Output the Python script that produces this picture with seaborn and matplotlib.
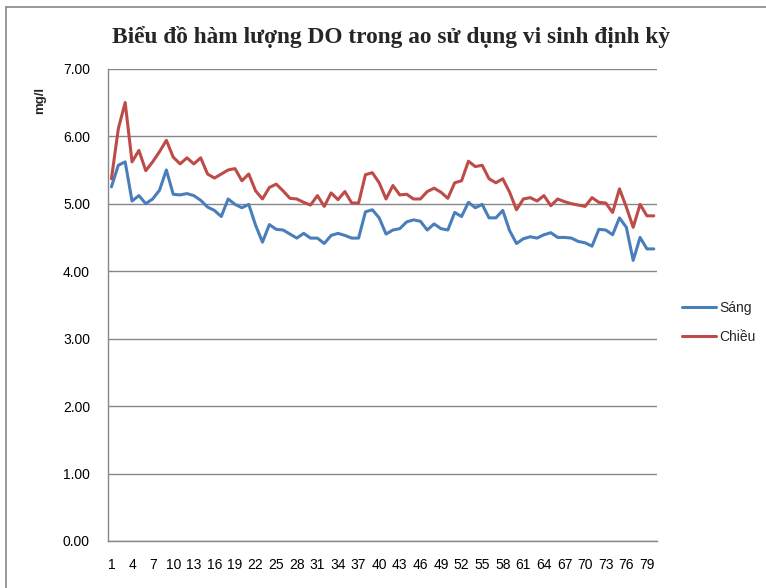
import pandas as pd
import matplotlib
matplotlib.use("Agg")
import matplotlib.pyplot as plt
import seaborn as sns
from matplotlib.lines import Line2D

# Số liệu DO (mg/l), 80 lần đo
days = list(range(1, 81))
sang = [5.25, 5.57, 5.62, 5.04, 5.12, 5.00, 5.07, 5.20, 5.50, 5.14,
        5.13, 5.15, 5.12, 5.05, 4.95, 4.90, 4.81, 5.07, 4.99, 4.94,
        4.99, 4.68, 4.43, 4.69, 4.62, 4.61, 4.55, 4.49, 4.56, 4.49,
        4.49, 4.41, 4.53, 4.56, 4.53, 4.49, 4.49, 4.88, 4.91, 4.79,
        4.55, 4.61, 4.63, 4.73, 4.76, 4.74, 4.61, 4.70, 4.63, 4.61,
        4.87, 4.81, 5.02, 4.94, 4.99, 4.79, 4.79, 4.90, 4.60, 4.41,
        4.48, 4.51, 4.49, 4.54, 4.57, 4.50, 4.50, 4.49, 4.44, 4.42,
        4.37, 4.62, 4.61, 4.54, 4.79, 4.65, 4.16, 4.50, 4.33, 4.33]
chieu = [5.37, 6.11, 6.50, 5.62, 5.79, 5.49, 5.62, 5.77, 5.94, 5.69,
         5.59, 5.68, 5.59, 5.68, 5.44, 5.38, 5.44, 5.50, 5.52, 5.34,
         5.44, 5.19, 5.07, 5.24, 5.29, 5.19, 5.08, 5.07, 5.02, 4.98,
         5.12, 4.96, 5.16, 5.06, 5.18, 5.01, 5.01, 5.43, 5.46, 5.31,
         5.07, 5.27, 5.13, 5.14, 5.07, 5.07, 5.18, 5.23, 5.17, 5.08,
         5.31, 5.34, 5.63, 5.55, 5.57, 5.37, 5.31, 5.37, 5.17, 4.91,
         5.07, 5.09, 5.04, 5.12, 4.97, 5.07, 5.03, 5.00, 4.98, 4.96,
         5.09, 5.02, 5.01, 4.87, 5.22, 4.95, 4.65, 4.99, 4.82, 4.82]

series_names = ["Sáng", "Chiều"]
series_colors = ["#4A7EBB", "#BE4B48"]
y_ticks = [0, 1, 2, 3, 4, 5, 6, 7]
x_ticks = list(range(1, 81, 3))

df = pd.DataFrame({
    "Ngày": days * 2,
    "DO": sang + chieu,
    "Buổi": ["Sáng"] * len(sang) + ["Chiều"] * len(chieu),
})

sns.set_style("white")
plt.rcParams["font.family"] = ["Liberation Sans", "DejaVu Sans"]

fig = plt.figure(figsize=(7.66, 5.88), dpi=100)
ax = fig.add_axes([0.141, 0.080, 0.717, 0.803])

sns.lineplot(data=df, x="Ngày", y="DO", hue="Buổi",
             palette=dict(zip(series_names, series_colors)),
             linewidth=2.2, legend=False, ax=ax)
for line in ax.lines:
    line.set_solid_joinstyle("round")

ax.set_xlim(0.5, 80.5)
ax.set_ylim(0, 7)
ax.set_yticks(y_ticks)
ax.set_yticklabels([f"{v:.2f}" for v in y_ticks], fontsize=10)
ax.set_xticks(x_ticks)
ax.set_xticklabels([str(v) for v in x_ticks], fontsize=10)
ax.set_xlabel("")
ax.set_ylabel("")
ax.grid(axis="y", color="#878787", linewidth=1)
ax.tick_params(axis="both", length=0, colors="black")
ax.tick_params(axis="y", pad=13)
ax.tick_params(axis="x", pad=12)
for side in ["top", "right"]:
    ax.spines[side].set_visible(False)
for side in ["left", "bottom"]:
    ax.spines[side].set_color("#878787")
    ax.spines[side].set_linewidth(1)

fig.text(0.51, 0.937, "Biểu đồ hàm lượng DO trong ao sử dụng vi sinh định kỳ",
         ha="center", va="center", fontsize=16.8, fontweight="bold",
         family=["Liberation Serif", "DejaVu Serif"])
fig.text(0.052, 0.83, "mg/l", rotation=90, ha="center", va="center",
         fontsize=9.5, fontweight="bold")

handles = [Line2D([0], [0], color=c, linewidth=2.2) for c in series_colors]
fig.legend(handles, series_names, loc="center left",
           bbox_to_anchor=(0.89, 0.452), frameon=False, fontsize=10,
           handlelength=2.5, handletextpad=0.2, labelspacing=1.1,
           borderaxespad=0, borderpad=0)

# khung viền của vùng biểu đồ
fig.add_artist(Line2D([0.008, 0.008], [0, 0.988], color="#878787", linewidth=1.2))
fig.add_artist(Line2D([0.008, 1.0], [0.988, 0.988], color="#878787", linewidth=1.2))

fig.savefig("out.png", dpi=100)
